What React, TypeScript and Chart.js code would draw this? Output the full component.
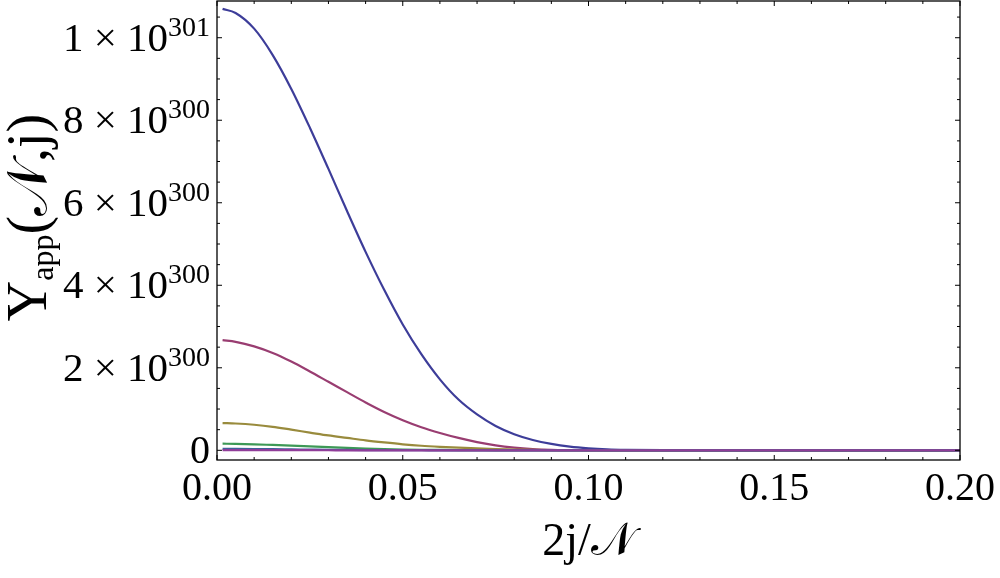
// @ts-nocheck
import {useEffect, useRef} from "react";
import {Chart, registerables} from "chart.js";

Chart.register(...registerables);

// x = 2j/N, y values in units of 1e300
const xs = [0.0015, 0.005, 0.01, 0.015, 0.02, 0.025, 0.03, 0.035, 0.04, 0.045, 0.05, 0.055, 0.06, 0.065,
    0.07, 0.075, 0.08, 0.085, 0.09, 0.095, 0.1, 0.105, 0.11, 0.12, 0.14, 0.16, 0.18, 0.2];
const blue = [10.70, 10.60, 10.22, 9.58, 8.76, 7.82, 6.82, 5.80, 4.81, 3.89, 3.05, 2.33, 1.72, 1.23,
    0.87, 0.59, 0.39, 0.25, 0.155, 0.09, 0.05, 0.025, 0.012, 0.002, 0, 0, 0, 0];
const magenta = [2.67, 2.63, 2.52, 2.36, 2.15, 1.91, 1.66, 1.41, 1.16, 0.93, 0.73, 0.56, 0.42, 0.30,
    0.20, 0.12, 0.065, 0.03, 0.012, 0.005, 0.002, 0, 0, 0, 0, 0, 0, 0];
const olive = [0.66, 0.65, 0.62, 0.57, 0.50, 0.43, 0.36, 0.30, 0.24, 0.19, 0.145, 0.11, 0.085, 0.065,
    0.045, 0.03, 0.02, 0.01, 0.005, 0.002, 0, 0, 0, 0, 0, 0, 0, 0];
const green = [0.16, 0.155, 0.145, 0.13, 0.115, 0.095, 0.075, 0.057, 0.042, 0.03, 0.02, 0.013, 0.008, 0.004,
    0.002, 0, 0, 0, 0, 0, 0, 0, 0, 0, 0, 0, 0, 0];
const steel = [0.035, 0.034, 0.031, 0.027, 0.022, 0.017, 0.012, 0.008, 0.005, 0.003, 0.002, 0.001, 0, 0,
    0, 0, 0, 0, 0, 0, 0, 0, 0, 0, 0, 0, 0, 0];
const violet = [0.006, 0.006, 0.005, 0.004, 0.003, 0.002, 0.001, 0, 0, 0, 0, 0, 0, 0,
    0, 0, 0, 0, 0, 0, 0, 0, 0, 0, 0, 0, 0, 0];

const seriesValues = [blue, magenta, olive, green, steel, violet];
const seriesColors = ['rgb(61,61,153)', 'rgb(153,61,113)', 'rgb(153,139,61)', 'rgb(61,153,86)', 'rgb(61,99,153)', 'rgb(144,61,153)'];

const xMajor = [0, 0.05, 0.1, 0.15, 0.2];
const xMajorLabels = ['0.00', '0.05', '0.10', '0.15', '0.20'];
const xMinor = [0.01, 0.02, 0.03, 0.04, 0.06, 0.07, 0.08, 0.09, 0.11, 0.12, 0.13, 0.14, 0.16, 0.17, 0.18, 0.19];
const yMajor = [0, 2, 4, 6, 8, 10];
const yMantissa = ['0', '2', '4', '6', '8', '1'];
const yExponent = ['', '300', '300', '300', '300', '301'];
const yMinor = [0.5, 1, 1.5, 2.5, 3, 3.5, 4.5, 5, 5.5, 6.5, 7, 7.5, 8.5, 9, 9.5, 10.5];

const SERIF = '"Liberation Serif", "Times New Roman", serif';
const MATH = '"Liberation Serif", "DejaVu Serif", "DejaVu Sans", serif';

const framePlugin = {
    id: 'frame',
    afterDraw(chart) {
        const {ctx, chartArea: a} = chart;
        const sx = chart.scales.x;
        const sy = chart.scales.y;
        ctx.save();
        ctx.strokeStyle = '#000';
        ctx.lineWidth = 1.3;
        ctx.strokeRect(a.left, a.top, a.right - a.left, a.bottom - a.top);

        // ticks, inward on all four sides
        ctx.lineWidth = 1;
        const xt = (v, len) => {
            const p = sx.getPixelForValue(v);
            ctx.beginPath();
            ctx.moveTo(p, a.bottom); ctx.lineTo(p, a.bottom - len);
            ctx.moveTo(p, a.top); ctx.lineTo(p, a.top + len);
            ctx.stroke();
        };
        const yt = (v, len) => {
            const p = sy.getPixelForValue(v);
            ctx.beginPath();
            ctx.moveTo(a.left, p); ctx.lineTo(a.left + len, p);
            ctx.moveTo(a.right, p); ctx.lineTo(a.right - len, p);
            ctx.stroke();
        };
        xMajor.forEach(v => xt(v, 5));
        xMinor.forEach(v => xt(v, 3));
        yMajor.forEach(v => yt(v, 5));
        yMinor.forEach(v => yt(v, 3));

        // x tick labels
        ctx.fillStyle = '#000';
        ctx.font = '40px ' + SERIF;
        ctx.textAlign = 'center';
        ctx.textBaseline = 'alphabetic';
        xMajor.forEach((v, i) => {
            ctx.fillText(xMajorLabels[i], sx.getPixelForValue(v), a.bottom + 40);
        });

        // y tick labels with superscript exponent
        ctx.textAlign = 'left';
        const right = a.left - 7;
        yMajor.forEach((v, i) => {
            const base = sy.getPixelForValue(v) + 13;
            if (!yExponent[i]) {
                ctx.font = '40px ' + SERIF;
                const w = ctx.measureText(yMantissa[i]).width;
                ctx.fillText(yMantissa[i], right - w, base);
                return;
            }
            const main = yMantissa[i] + ' \u00d7 10';
            ctx.font = '28px ' + SERIF;
            const sw = ctx.measureText(yExponent[i]).width;
            ctx.font = '41px ' + SERIF;
            const mw = ctx.measureText(main).width;
            ctx.fillText(main, right - sw - mw, base);
            ctx.font = '28px ' + SERIF;
            ctx.fillText(yExponent[i], right - sw, base - 15);
        });

        // x axis title
        const t1 = '2j/';
        ctx.font = '46px ' + MATH;
        const nW = ctx.measureText('\u{1D4A9}').width;
        ctx.font = '46px ' + SERIF;
        const t1W = ctx.measureText(t1).width;
        const cx = (a.left + a.right) / 2;
        const x0 = cx - (t1W + nW) / 2;
        ctx.fillText(t1, x0, a.bottom + 95);
        ctx.font = '46px ' + MATH;
        ctx.fillText('\u{1D4A9}', x0 + t1W, a.bottom + 95);

        // y axis title, rotated
        ctx.translate(46, (a.top + a.bottom) / 2 - 13);
        ctx.rotate(-Math.PI / 2);
        const parts = [
            ['Y', '56px ' + SERIF, 0],
            ['app', '32px ' + SERIF, 7],
            ['(', '56px ' + SERIF, 0],
            ['\u{1D4A9}', '56px ' + MATH, 0],
            [',j)', '56px ' + SERIF, 0],
        ];
        let total = 0;
        const widths = parts.map(([t, f]) => {
            ctx.font = f;
            const w = ctx.measureText(t).width;
            total += w;
            return w;
        });
        let px = -total / 2;
        parts.forEach(([t, f, dy], i) => {
            ctx.font = f;
            ctx.fillText(t, px, dy);
            px += widths[i];
        });
        ctx.restore();
    }
};

export default function App() {
    const chartRef = useRef(null);
    const chartInstance = useRef(null);

    useEffect(() => {
        const ctx = chartRef.current?.getContext('2d');
        const order = [5, 4, 3, 2, 1, 0];
        chartInstance.current = new Chart(ctx, {
            type: 'line',
            data: {
                datasets: order.map(k => ({
                    data: xs.map((x, i) => ({x, y: seriesValues[k][i]})),
                    borderColor: seriesColors[k],
                    borderWidth: 2.2,
                    pointRadius: 0,
                    fill: false,
                    cubicInterpolationMode: 'monotone',
                })),
            },
            plugins: [framePlugin],
            options: {
                responsive: false,
                animation: false,
                layout: {padding: {left: 217, right: 40, top: 1, bottom: 118}},
                plugins: {legend: {display: false}, tooltip: {enabled: false}},
                scales: {
                    x: {type: 'linear', min: 0, max: 0.2, display: false},
                    y: {type: 'linear', min: -0.235, max: 10.89, display: false},
                },
            },
        });

        return () => {
            chartInstance.current.destroy();
        };
    }, []);

    return (
        <div style={{position: 'absolute', left: 0, top: 0, width: 1000, height: 578, background: '#fff'}}>
            <canvas ref={chartRef} width={1000} height={578} style={{display: 'block'}}/>
        </div>
    );
}
